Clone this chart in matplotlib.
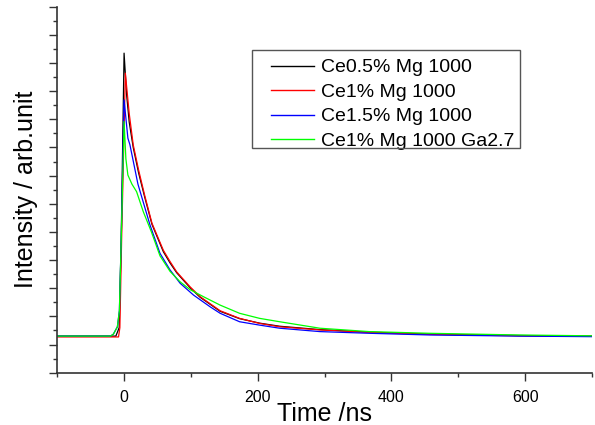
import matplotlib
matplotlib.use("Agg")
import matplotlib.pyplot as plt
from matplotlib.ticker import MultipleLocator, FixedLocator, NullFormatter
from matplotlib.legend_handler import HandlerLine2D
from matplotlib.patches import Rectangle

plt.rcParams['font.family'] = ['Liberation Sans', 'DejaVu Sans']

# ---- data ----
labels = ["Ce0.5% Mg 1000", "Ce1% Mg 1000", "Ce1.5% Mg 1000", "Ce1% Mg 1000 Ga2.7"]
colors = ["#000000", "#ff0000", "#0000ff", "#00ff00"]

t_black = [-100, -12, -7, -4, 0.3, 4, 8, 14, 22, 31, 42, 59, 69, 79, 99, 114, 144, 173, 203, 233, 293, 367, 457, 591, 700]
v_black = [1.30, 1.30, 1.6, 4.7, 11.35, 9.9, 8.9, 8.0, 7.1, 6.25, 5.27, 4.3, 3.9, 3.55, 3.02, 2.68, 2.18, 1.92, 1.76, 1.65, 1.53, 1.44, 1.37, 1.32, 1.30]

t_red = [-100, -8, -6, -3.4, 2.2, 8, 14, 22, 31, 42, 59, 69, 79, 99, 114, 144, 173, 203, 233, 293, 367, 457, 591, 700]
v_red = [1.27, 1.27, 1.6, 4.7, 10.64, 9.2, 8.09, 7.2, 6.31, 5.31, 4.35, 3.95, 3.58, 3.05, 2.70, 2.20, 1.93, 1.75, 1.63, 1.52, 1.43, 1.36, 1.31, 1.29]

t_blue = [-100, -20, -15.7, -9.7, -6.7, -4, 0.3, 6, 9, 21, 39, 54, 69, 84, 104, 129, 144, 173, 203, 233, 293, 367, 457, 591, 700]
v_blue = [1.30, 1.30, 1.37, 1.63, 2.2, 4.7, 9.69, 8.33, 8.1, 6.7, 5.25, 4.24, 3.65, 3.18, 2.76, 2.34, 2.11, 1.81, 1.69, 1.58, 1.46, 1.40, 1.34, 1.30, 1.28]

t_green = [-100, -20, -15.7, -9.7, -6.7, -4, 0.3, 3, 6, 12, 19, 29, 41, 54, 69, 84, 99, 119, 144, 173, 203, 233, 293, 367, 457, 591, 700]
v_green = [1.30, 1.30, 1.37, 1.63, 2.2, 4.7, 8.92, 7.6, 7.02, 6.7, 6.43, 5.72, 5.01, 4.15, 3.6, 3.23, 2.95, 2.70, 2.40, 2.11, 1.93, 1.81, 1.58, 1.46, 1.40, 1.34, 1.31]

series_t = [t_black, t_red, t_blue, t_green]
series_v = [v_black, v_red, v_blue, v_green]

x_major = [0, 200, 400, 600]
x_minor = [-100, 100, 300, 500, 700]

# ---- figure ----
W, H = 595, 425
fig = plt.figure(figsize=(W / 100, H / 100), dpi=100)
ax = fig.add_axes([57 / W, 1 - 372.7 / H, (592 - 57) / W, (372.7 - 6.7) / H])

for t, v, c, lab in zip(series_t, series_v, colors, labels):
    ax.plot(t, v, color=c, lw=0.9, label=lab)

ax.set_xlim(-100, 700)
ax.set_ylim(0, 13)
ax.xaxis.set_major_locator(FixedLocator(x_major))
ax.xaxis.set_minor_locator(FixedLocator(x_minor))
ax.yaxis.set_major_locator(MultipleLocator(1))
ax.yaxis.set_minor_locator(MultipleLocator(0.5))
ax.yaxis.set_major_formatter(NullFormatter())

for s in ['top', 'right']:
    ax.spines[s].set_visible(False)
for s in ['left', 'bottom']:
    ax.spines[s].set_linewidth(1.2)
    ax.spines[s].set_color('#333333')

ax.tick_params(which='major', direction='out', length=5.5, width=1.0, labelsize=11.5, pad=7, colors='#333333')
ax.tick_params(which='minor', direction='out', length=3, width=1.0, colors='#333333')
ax.tick_params(axis='x', labelcolor='black')

ax.set_xlabel("Time /ns", fontsize=18, labelpad=-2)
ax.set_ylabel("Intensity / arb.unit", fontsize=18, labelpad=1)


class ShiftHandler(HandlerLine2D):
    def __init__(self, off, **kw):
        super().__init__(**kw)
        self.off = off

    def create_artists(self, legend, orig_handle, xdescent, ydescent, width, height, fontsize, trans):
        off = self.off * fontsize
        return super().create_artists(legend, orig_handle, xdescent - off, ydescent,
                                      width - off, height, fontsize, trans)


handles = ax.get_lines()
leg = ax.legend(handles=handles, labels=labels,
                loc='upper left', bbox_to_anchor=((252 - 57) / 535, (372.7 - 50) / 366),
                borderaxespad=0, fontsize=14, frameon=False,
                handlelength=2.75, handletextpad=0.36, borderpad=0.45, labelspacing=0.355,
                handler_map={h: ShiftHandler(0.55) for h in handles})
for ln in leg.get_lines():
    ln.set_linewidth(1.0)

# legend frame
fx0, fy0, fx1, fy1 = 252, 50, 520, 148
fig.patches.append(Rectangle((fx0 / W, 1 - fy1 / H), (fx1 - fx0) / W, (fy1 - fy0) / H,
                             transform=fig.transFigure, fill=False,
                             edgecolor='#555555', linewidth=1.0, zorder=5))

fig.savefig("out.png", dpi=100)
